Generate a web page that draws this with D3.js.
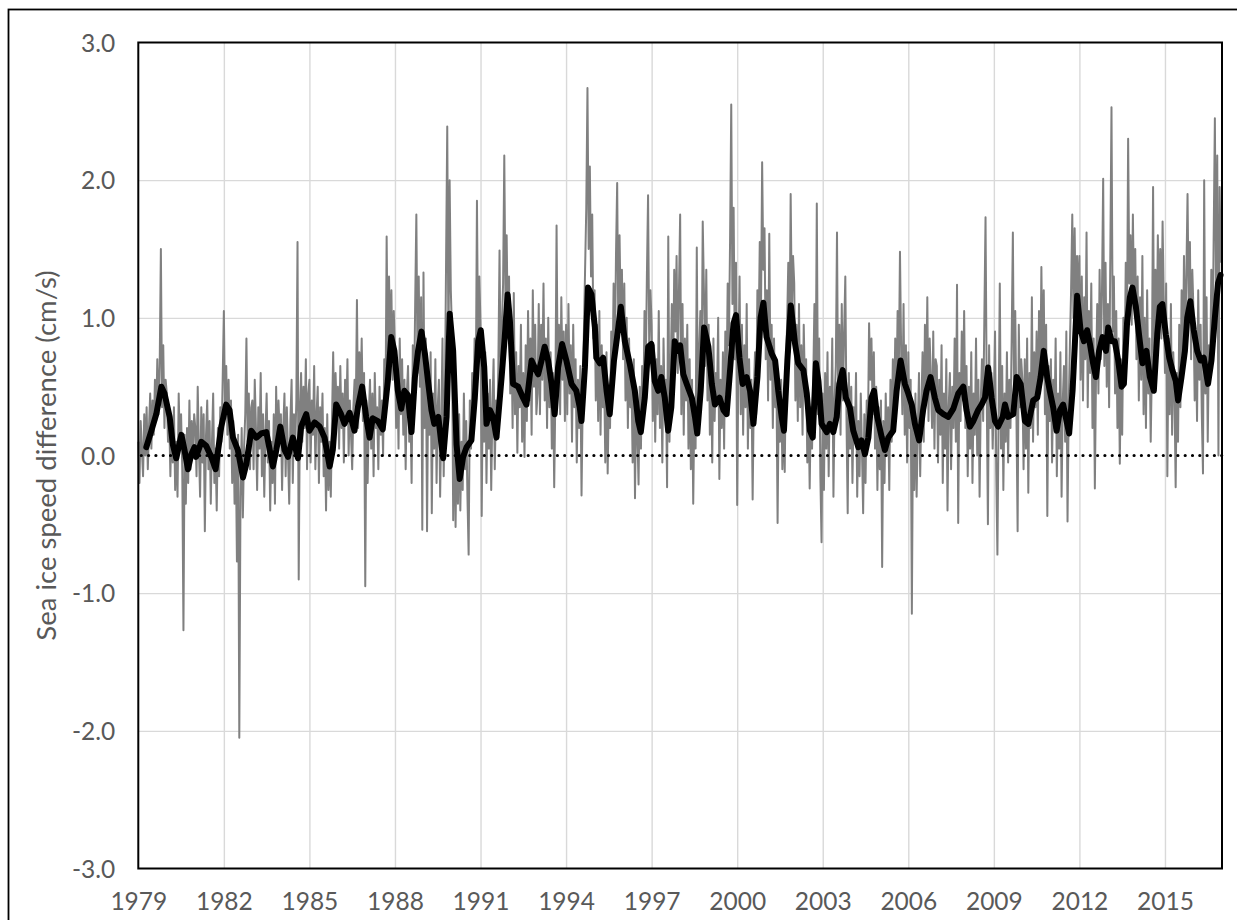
<!DOCTYPE html>
<html><head><meta charset="utf-8">
<script src="https://cdn.jsdelivr.net/npm/d3@7"></script>
<style>
body{margin:0;background:#fff;}
svg{display:block;font-family:Lato,"Open Sans",sans-serif;}
</style>
</head><body>
<svg id="chart" width="1237" height="920"></svg>
<script>
// ---------- DATA ----------
const xTickYears = [1979,1982,1985,1988,1991,1994,1997,2000,2003,2006,2009,2012,2015];
const yTickValues = [-3,-2,-1,0,1,2,3];
const xDomain = [1979, 2017];
const yDomain = [-3, 3];
const yAxisTitle = "Sea ice speed difference (cm/s)";

// gray series: one row per year, evenly spaced samples within the year
const grayYears = [1979,1980,1981,1982,1983,1984,1985,1986,1987,1988,1989,1990,1991,1992,1993,1994,1995,1996,1997,1998,1999,2000,2001,2002,2003,2004,2005,2006,2007,2008,2009,2010,2011,2012,2013,2014,2015,2016];
const grayRows = [
[0.10,-0.20,0.25,0.05,-0.15,0.30,0.00,0.35,-0.10,0.20,0.45,0.05,0.40,0.15,0.55,0.25,0.70,0.30,0.65,1.50,0.35,0.80,0.20,0.55],
[0.45,0.10,0.30,-0.15,0.25,-0.05,0.35,-0.25,0.10,-0.30,0.45,0.05,0.30,-0.10,-1.27,0.15,-0.35,0.20,-0.20,0.40,-0.10,0.25,0.00,0.30],
[0.20,-0.15,0.50,0.05,-0.30,0.35,-0.05,0.30,-0.55,0.15,0.40,-0.10,0.25,-0.35,0.10,0.45,-0.20,0.05,-0.40,0.20,-0.15,0.35,0.10,0.55],
[1.05,0.30,0.65,0.15,0.55,0.05,0.40,-0.20,0.25,-0.35,0.10,-0.77,0.15,-2.05,-0.30,0.20,-0.45,0.05,0.30,0.85,0.10,0.45,-0.10,0.35],
[0.40,-0.10,0.55,0.20,-0.25,0.35,0.05,0.60,-0.15,0.30,-0.30,0.15,0.45,-0.05,0.25,-0.40,0.10,-0.20,0.30,-0.35,0.50,0.00,0.40,0.15],
[0.30,-0.25,0.20,0.45,-0.15,0.35,0.00,-0.35,0.25,0.55,-0.20,0.30,0.05,0.40,1.55,-0.90,0.35,0.60,0.10,0.50,0.20,0.70,-0.10,0.45],
[0.55,-0.05,0.40,0.15,0.65,-0.10,0.30,0.50,-0.20,0.35,0.10,0.45,-0.15,0.20,-0.40,0.30,-0.25,0.10,-0.30,0.25,0.75,0.15,0.60,0.30],
[0.50,0.05,0.65,0.20,0.45,-0.05,0.55,0.25,0.70,0.00,0.40,0.15,-0.10,0.35,0.55,0.30,1.13,0.20,0.75,0.40,0.85,0.25,0.60,-0.95],
[0.40,-0.20,0.30,0.55,0.05,0.45,-0.15,0.60,0.20,0.35,-0.10,0.50,0.15,0.40,0.00,0.70,0.30,1.59,0.60,1.30,0.75,1.20,0.55,1.05],
[0.75,0.20,0.60,0.05,0.85,0.30,0.70,0.15,0.55,-0.10,0.45,0.65,0.10,0.40,-0.20,0.80,0.35,1.10,1.75,0.60,1.30,0.50,1.15,-0.54],
[1.33,0.20,0.85,-0.55,0.60,0.15,0.75,-0.42,0.45,0.05,0.70,-0.20,0.35,0.55,-0.30,0.25,0.85,-0.15,0.40,1.40,2.39,0.75,2.00,1.20],
[0.90,-0.47,0.35,-0.52,0.15,-0.35,0.30,-0.40,0.10,-0.25,0.45,-0.10,0.25,-0.30,-0.72,0.40,0.05,0.60,0.20,0.85,0.45,1.85,0.70,1.30],
[0.95,-0.44,0.60,0.10,0.75,-0.20,0.45,0.05,0.55,-0.25,0.35,0.70,-0.10,0.40,0.15,0.65,1.49,0.50,0.95,1.25,2.18,1.10,1.60,0.85],
[1.30,0.45,0.90,0.20,1.18,0.30,0.75,0.02,0.65,0.35,0.95,0.10,0.60,-0.01,0.80,0.25,1.05,0.40,0.85,0.15,1.20,0.50,0.95,0.30],
[0.45,1.10,0.30,0.95,0.55,1.25,0.40,0.85,0.20,1.00,0.35,0.75,0.05,0.60,-0.23,0.45,1.67,0.50,0.95,0.30,1.15,0.55,0.90,0.25],
[0.95,0.30,1.10,0.45,0.80,0.10,0.95,0.35,0.70,-0.05,0.55,0.20,0.65,-0.29,0.40,0.90,1.35,1.80,2.67,1.50,2.10,1.30,1.75,0.85],
[1.20,0.40,0.95,0.25,1.05,0.15,0.80,0.35,0.60,-0.05,0.75,-0.13,0.45,0.20,0.90,0.50,1.25,0.65,1.45,1.98,0.85,1.60,1.00,1.35],
[0.70,1.25,0.40,1.00,0.20,0.85,0.35,0.60,-0.05,0.70,-0.31,0.45,0.15,-0.21,0.50,0.05,0.65,0.30,1.05,0.55,1.30,1.89,0.75,1.20],
[0.95,0.25,0.80,0.10,0.70,0.30,1.05,0.20,0.65,-0.05,0.85,0.35,0.55,-0.23,1.59,0.10,0.60,1.10,0.45,1.35,0.90,1.45,0.60,1.20],
[1.75,0.30,1.10,0.15,0.85,0.40,0.95,0.05,0.70,-0.10,0.55,-0.35,0.40,0.05,1.51,0.20,0.75,1.05,0.50,1.70,1.20,0.65,1.35,0.40],
[0.95,0.15,0.70,-0.05,0.85,0.25,0.60,0.40,1.00,-0.17,0.55,0.20,0.75,0.05,0.90,0.45,1.25,0.80,1.55,2.55,1.10,1.80,0.70,1.40],
[-0.36,0.65,1.30,0.30,0.95,0.15,0.80,0.35,1.10,0.05,0.70,0.20,0.55,-0.32,0.45,0.75,0.30,1.20,0.85,1.55,1.00,2.13,1.35,1.65],
[0.70,1.20,0.40,1.61,0.55,0.95,0.20,0.85,0.35,0.60,-0.49,0.45,0.10,0.55,-0.10,0.30,-0.12,0.65,0.95,1.40,0.75,1.90,1.05,1.45],
[1.25,0.40,0.95,0.25,1.10,0.35,0.80,0.15,0.95,0.50,0.70,-0.05,0.40,-0.24,0.35,0.05,0.55,1.10,0.45,1.83,0.30,0.85,-0.15,-0.63],
[0.45,-0.25,0.60,0.05,0.75,-0.15,0.50,0.20,0.85,-0.30,0.40,0.65,1.62,0.30,0.95,0.15,1.10,0.40,0.90,1.30,0.25,-0.42,0.60,0.05],
[0.50,-0.20,0.35,0.10,0.60,-0.30,0.25,-0.15,0.45,0.05,-0.42,0.30,-0.20,0.40,0.15,0.96,0.55,0.85,0.30,0.75,0.05,0.50,-0.25,0.35],
[-0.10,0.40,-0.81,0.25,-0.20,0.45,0.00,0.35,-0.25,0.55,0.10,0.70,0.25,0.85,0.40,1.05,0.60,1.48,0.75,0.30,1.10,0.15,0.80,-0.05],
[0.75,0.20,0.55,-1.15,0.30,-0.25,0.45,-0.30,0.20,0.60,-0.15,0.35,0.75,0.10,0.95,0.40,1.15,0.25,0.85,0.55,0.20,0.90,0.05,0.70],
[0.65,-0.05,0.55,0.15,0.80,-0.20,0.45,0.05,0.70,-0.40,0.35,0.60,-0.10,0.50,0.20,0.85,0.10,1.24,-0.49,0.60,0.25,0.90,0.40,1.05],
[0.20,0.65,-0.15,0.50,0.05,0.75,-0.20,0.45,0.15,0.85,0.00,0.55,-0.30,0.40,0.70,0.25,1.00,1.73,0.45,-0.50,0.80,0.20,0.60,0.05],
[0.40,0.90,-0.10,-0.72,0.30,1.25,0.05,0.65,-0.25,0.45,0.10,0.75,-0.05,0.55,0.20,0.85,1.62,0.40,1.05,0.30,-0.55,0.95,0.35,0.70],
[0.55,-0.10,0.70,0.05,0.85,-0.27,0.60,0.20,1.15,0.10,0.75,0.35,0.90,0.15,1.05,0.45,1.37,0.60,1.20,0.30,0.95,-0.44,0.65,0.25],
[0.70,-0.05,0.55,0.20,0.85,-0.15,0.45,0.05,0.75,-0.30,0.40,0.65,0.10,0.90,-0.48,0.35,0.80,1.20,1.75,1.00,1.65,0.90,1.45,1.10],
[1.45,0.55,1.30,0.40,1.15,0.70,1.62,0.35,1.05,0.60,1.25,0.20,0.85,-0.24,0.60,1.10,0.45,1.35,0.70,1.20,2.01,0.65,1.40,0.50],
[1.10,0.35,1.45,2.53,0.90,1.30,0.45,1.05,0.20,0.85,-0.06,0.70,0.15,1.00,0.55,1.40,0.80,2.30,1.25,1.60,0.95,1.75,1.10,1.50],
[0.70,1.30,0.40,1.15,0.55,1.45,0.30,1.00,0.20,1.20,0.45,0.85,0.10,0.65,1.95,0.50,1.35,0.75,1.60,1.00,1.50,0.85,1.70,1.10],
[0.60,1.25,-0.15,0.85,0.30,1.10,0.15,0.75,0.45,-0.23,0.60,0.10,0.95,0.35,1.20,0.55,1.45,0.80,1.30,1.90,1.05,1.55,0.70,1.35],
[1.05,0.40,0.85,0.25,1.20,0.55,0.95,0.30,-0.13,2.00,0.45,1.15,0.10,0.80,0.55,1.35,0.70,1.60,2.45,1.10,2.18,0.00,1.95,1.40]
];

// smoothed (black) series: [decimal year, value]
const smoothSeries = [
[1979.28,0.06],[1979.46,0.18],[1979.63,0.30],[1979.81,0.50],[1979.92,0.45],[1980.10,0.28],[1980.21,0.08],[1980.33,-0.02],
[1980.51,0.15],[1980.62,0.04],[1980.74,-0.10],[1980.86,0.01],[1980.97,0.06],[1981.03,-0.01],[1981.21,0.10],[1981.38,0.07],
[1981.56,-0.01],[1981.71,-0.10],[1981.91,0.21],[1982.08,0.37],[1982.20,0.33],[1982.32,0.13],[1982.49,0.04],[1982.67,-0.16],
[1982.79,-0.06],[1982.96,0.18],[1983.14,0.13],[1983.31,0.16],[1983.49,0.17],[1983.72,-0.08],[1983.84,0.04],[1983.98,0.21],
[1984.13,0.04],[1984.25,-0.01],[1984.42,0.13],[1984.60,-0.02],[1984.71,0.21],[1984.89,0.30],[1985.00,0.18],[1985.18,0.24],
[1985.36,0.21],[1985.53,0.13],[1985.71,-0.08],[1985.82,0.04],[1985.94,0.37],[1986.11,0.30],[1986.23,0.23],[1986.41,0.31],
[1986.58,0.18],[1986.70,0.35],[1986.85,0.50],[1986.99,0.28],[1987.11,0.13],[1987.22,0.27],[1987.40,0.25],[1987.57,0.19],
[1987.75,0.54],[1987.87,0.86],[1987.98,0.76],[1988.10,0.47],[1988.22,0.34],[1988.33,0.47],[1988.45,0.44],[1988.58,0.17],
[1988.70,0.57],[1988.81,0.76],[1988.93,0.90],[1989.05,0.74],[1989.17,0.52],[1989.28,0.33],[1989.38,0.23],[1989.52,0.28],
[1989.63,0.08],[1989.69,-0.02],[1989.81,0.28],[1989.92,1.03],[1990.04,0.76],[1990.16,0.08],[1990.27,-0.17],[1990.39,-0.01],
[1990.51,0.06],[1990.68,0.11],[1990.80,0.42],[1990.92,0.83],[1991.01,0.91],[1991.13,0.64],[1991.21,0.23],[1991.33,0.33],
[1991.44,0.28],[1991.56,0.13],[1991.74,0.57],[1991.85,0.86],[1991.95,1.17],[1992.03,0.98],[1992.14,0.52],[1992.32,0.50],
[1992.49,0.42],[1992.61,0.37],[1992.79,0.69],[1992.90,0.64],[1993.02,0.59],[1993.14,0.69],[1993.25,0.79],[1993.37,0.69],
[1993.49,0.52],[1993.60,0.30],[1993.72,0.64],[1993.86,0.81],[1994.01,0.69],[1994.19,0.52],[1994.36,0.47],[1994.48,0.35],
[1994.54,0.25],[1994.66,0.64],[1994.77,1.22],[1994.89,1.17],[1995.01,0.93],[1995.06,0.71],[1995.18,0.67],[1995.30,0.71],
[1995.42,0.47],[1995.53,0.30],[1995.68,0.69],[1995.82,0.91],[1995.92,1.08],[1996.06,0.83],[1996.23,0.67],[1996.41,0.47],
[1996.53,0.25],[1996.62,0.17],[1996.76,0.42],[1996.88,0.79],[1996.99,0.81],[1997.11,0.54],[1997.23,0.47],[1997.34,0.57],
[1997.46,0.42],[1997.58,0.18],[1997.69,0.35],[1997.81,0.83],[1997.92,0.76],[1998.00,0.80],[1998.11,0.59],[1998.23,0.52],
[1998.41,0.42],[1998.52,0.28],[1998.60,0.16],[1998.72,0.47],[1998.84,0.93],[1998.99,0.79],[1999.11,0.52],[1999.22,0.37],
[1999.38,0.42],[1999.52,0.33],[1999.63,0.30],[1999.75,0.62],[1999.87,0.96],[1999.96,1.02],[2000.08,0.71],[2000.19,0.52],
[2000.33,0.57],[2000.45,0.47],[2000.57,0.23],[2000.71,0.57],[2000.82,1.00],[2000.92,1.11],[2001.03,0.86],[2001.21,0.74],
[2001.33,0.69],[2001.44,0.47],[2001.56,0.28],[2001.64,0.18],[2001.76,0.69],[2001.88,1.09],[2002.03,0.81],[2002.14,0.67],
[2002.32,0.62],[2002.44,0.45],[2002.55,0.18],[2002.65,0.13],[2002.76,0.67],[2002.85,0.54],[2002.96,0.23],[2003.14,0.17],
[2003.25,0.23],[2003.37,0.17],[2003.49,0.28],[2003.58,0.52],[2003.70,0.62],[2003.81,0.42],[2003.95,0.35],[2004.07,0.18],
[2004.25,0.06],[2004.36,0.11],[2004.48,0.01],[2004.60,0.13],[2004.71,0.42],[2004.80,0.47],[2004.91,0.28],[2005.07,0.13],
[2005.18,0.04],[2005.30,0.13],[2005.47,0.18],[2005.59,0.47],[2005.73,0.69],[2005.88,0.52],[2006.00,0.45],[2006.12,0.37],
[2006.23,0.23],[2006.38,0.11],[2006.52,0.33],[2006.64,0.47],[2006.78,0.57],[2006.93,0.42],[2007.05,0.33],[2007.23,0.30],
[2007.40,0.28],[2007.58,0.34],[2007.75,0.45],[2007.93,0.50],[2008.04,0.33],[2008.16,0.21],[2008.28,0.25],[2008.45,0.33],
[2008.57,0.37],[2008.69,0.42],[2008.80,0.64],[2008.92,0.42],[2009.04,0.25],[2009.15,0.21],[2009.31,0.28],[2009.39,0.37],
[2009.50,0.28],[2009.68,0.30],[2009.80,0.57],[2009.94,0.52],[2010.09,0.25],[2010.21,0.23],[2010.38,0.40],[2010.52,0.42],
[2010.64,0.57],[2010.75,0.76],[2010.87,0.57],[2010.96,0.47],[2011.08,0.35],[2011.20,0.18],[2011.32,0.33],[2011.43,0.37],
[2011.55,0.25],[2011.64,0.16],[2011.76,0.47],[2011.84,0.81],[2011.92,1.16],[2012.04,0.91],[2012.16,0.83],[2012.27,0.91],
[2012.37,0.81],[2012.48,0.67],[2012.58,0.57],[2012.69,0.76],[2012.81,0.86],[2012.93,0.76],[2013.01,0.93],[2013.13,0.83],
[2013.24,0.83],[2013.36,0.69],[2013.48,0.50],[2013.56,0.52],[2013.67,0.96],[2013.77,1.15],[2013.86,1.22],[2013.98,1.08],
[2014.10,0.86],[2014.21,0.67],[2014.35,0.76],[2014.47,0.57],[2014.61,0.47],[2014.73,0.88],[2014.82,1.08],[2014.91,1.10],
[2015.03,0.88],[2015.15,0.71],[2015.26,0.62],[2015.38,0.54],[2015.46,0.40],[2015.58,0.57],[2015.70,0.76],[2015.78,1.00],
[2015.89,1.12],[2016.01,0.91],[2016.13,0.76],[2016.25,0.69],[2016.36,0.71],[2016.51,0.52],[2016.63,0.69],[2016.75,1.00],
[2016.86,1.25],[2016.95,1.31]
];

// ---------- DRAWING ----------
const svg = d3.select("#chart");
const plot = {left:138.3, right:1222, top:42.5, bottom:868.5};
const x = d3.scaleLinear().domain(xDomain).range([plot.left, plot.right]);
const y = d3.scaleLinear().domain(yDomain).range([plot.bottom, plot.top]);
const textColor = "#595959";
const tickFont = 24.5;

// outer chart frame
svg.append("rect").attr("x",8.5).attr("y",9.5).attr("width",1240).attr("height",920)
  .attr("fill","none").attr("stroke","#000").attr("stroke-width",1.8);

// gridlines
const gx = svg.append("g").attr("transform",`translate(0,${plot.bottom})`)
  .call(d3.axisBottom(x).tickValues(xTickYears.slice(1)).tickSize(-(plot.bottom-plot.top)).tickFormat(""));
gx.select(".domain").remove();
gx.selectAll("line").attr("stroke","#d9d9d9").attr("stroke-width",1.4);
const gy = svg.append("g").attr("transform",`translate(${plot.left},0)`)
  .call(d3.axisLeft(y).tickValues(yTickValues.filter(v=>v!==0 && v!==yDomain[0] && v!==yDomain[1])).tickSize(-(plot.right-plot.left)).tickFormat(""));
gy.select(".domain").remove();
gy.selectAll("line").attr("stroke","#d9d9d9").attr("stroke-width",1.4);

// gray series
const grayData = [];
grayRows.forEach((row,i)=>row.forEach((v,j)=>grayData.push([grayYears[i]+j/row.length, v])));
const line = d3.line().x(d=>x(d[0])).y(d=>y(d[1]));
svg.append("path").datum(grayData).attr("d",line)
  .attr("fill","none").attr("stroke","#808080").attr("stroke-width",2).attr("stroke-linejoin","round");

// zero dotted line
svg.append("line").attr("x1",x(xDomain[0])+3).attr("x2",x(xDomain[1])).attr("y1",y(0)).attr("y2",y(0))
  .attr("stroke","#000").attr("stroke-width",3.2).attr("stroke-linecap","round").attr("stroke-dasharray","0 7.3");

// smoothed series
svg.append("path").datum(smoothSeries).attr("d",line)
  .attr("fill","none").attr("stroke","#000").attr("stroke-width",6).attr("stroke-linejoin","round").attr("stroke-linecap","round");

// plot border
svg.append("rect").attr("x",plot.left).attr("y",plot.top).attr("width",plot.right-plot.left).attr("height",plot.bottom-plot.top)
  .attr("fill","none").attr("stroke","#000").attr("stroke-width",2);

// axes labels
const ax = svg.append("g").attr("transform",`translate(0,${plot.bottom})`)
  .call(d3.axisBottom(x).tickValues(xTickYears).tickFormat(d=>String(d)).tickSize(0));
ax.select(".domain").remove();
ax.selectAll("text").attr("y",41.5).attr("dy",null).attr("fill",textColor).style("font-size",tickFont+"px").style("font-family","Lato");

const ay = svg.append("g").attr("transform",`translate(${plot.left},0)`)
  .call(d3.axisLeft(y).tickValues(yTickValues).tickFormat(d=>d.toFixed(1)).tickSize(0));
ay.select(".domain").remove();
ay.selectAll("text").attr("x",-23).attr("dy","0.36em").attr("fill",textColor).style("font-size",tickFont+"px").style("font-family","Lato");

// y axis title
svg.append("text").attr("transform",`translate(56,${(plot.top+plot.bottom)/2}) rotate(-90)`)
  .attr("text-anchor","middle").attr("fill",textColor).style("font-size","27.5px").style("font-family","Lato")
  .text(yAxisTitle);
</script>
</body></html>
